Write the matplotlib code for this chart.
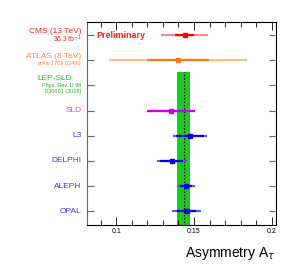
import matplotlib.pyplot as plt
import numpy as np
from matplotlib.ticker import MultipleLocator

plt.rcParams['font.family'] = ['Liberation Sans', 'DejaVu Sans']

# rows from bottom (OPAL) to top (CMS)
names = ['OPAL', 'ALEPH', 'DELPHI', 'L3', 'SLD', 'LEP-SLD', 'ATLAS (8 TeV)', 'CMS (13 TeV)']
ypos = [1, 2, 3, 4, 5, 6, 7, 8]
label_colors = ['#3333ff', '#3333ff', '#3333ff', '#3333ff', '#e040ff', '#22bb22', '#ff8833', '#ff2020']

# measurements (no point for the LEP-SLD row, it is the band)
meas_names = ['OPAL', 'ALEPH', 'DELPHI', 'L3', 'SLD', 'ATLAS (8 TeV)', 'CMS (13 TeV)']
meas_y = [1, 2, 3, 4, 5, 7, 8]
a_tau = [0.1452, 0.1448, 0.1356, 0.1474, 0.1354, 0.1397, 0.1439]
err_inner = [0.0060, 0.0040, 0.0075, 0.0090, 0.0155, 0.0200, 0.0060]
err_total = [0.0095, 0.0060, 0.0097, 0.0110, 0.0155, 0.0445, 0.0150]
dark = ['#0000ee', '#0000ee', '#0000ee', '#0000ee', '#cc00ee', '#ff7722', '#ff0000']
light = ['#5555ff', '#5555ff', '#5555ff', '#5555ff', '#cc00ee', '#ffbb88', '#ff8888']

# LEP-SLD average
avg = 0.1433
avg_err = 0.0040

fig = plt.figure(figsize=(2.91, 2.79), dpi=100)
ax = fig.add_axes([0.299, 0.1935, 0.649, 0.7275])

ax.fill_betweenx([0.0, 6.55], avg - avg_err, avg + avg_err, color='#1ccc1c', lw=0, zorder=1)
ax.plot([avg, avg], [0.0, 6.55], color='black', ls=(0, (1.5, 1.5)), lw=0.8, zorder=2)

for i in range(len(meas_y)):
    x, y = a_tau[i], meas_y[i]
    ax.plot([x - err_total[i], x + err_total[i]], [y, y], color=light[i], lw=1.5,
            solid_capstyle='butt', zorder=3)
    ax.plot([x - err_inner[i], x + err_inner[i]], [y, y], color=dark[i], lw=1.6,
            solid_capstyle='butt', zorder=4)
    ax.plot(x, y, 's', color=dark[i], ms=3.5, zorder=5)

ax.set_xlim(0.0812, 0.2026)
ax.set_ylim(0.45, 8.52)
ax.xaxis.set_major_locator(MultipleLocator(0.05))
ax.xaxis.set_minor_locator(MultipleLocator(0.01))
ax.set_xticks([0.1, 0.15, 0.2])
ax.set_xticklabels(['0.1', '0.15', '0.2'])
ax.tick_params(axis='x', which='both', direction='in', top=True, bottom=True,
               labelsize=5, pad=2)
ax.tick_params(axis='x', which='major', length=6, width=0.6)
ax.tick_params(axis='x', which='minor', length=3.5, width=0.6)
ax.set_yticks(ypos)
ax.set_yticklabels([])
ax.tick_params(axis='y', which='both', direction='in', left=True, right=True,
               length=5, width=0.8, color='#666666')
for s in ax.spines.values():
    s.set_linewidth(0.8)
ax.spines['left'].set_color('#666666')

ax.set_xlabel(r'Asymmetry A$_\tau$', fontsize=10, ha='right', x=1.0, labelpad=7)

# row labels on the left
trans = ax.get_yaxis_transform()
xl = -0.03
for i, (n, y) in enumerate(zip(names, ypos)):
    c = label_colors[i]
    if n == 'CMS (13 TeV)':
        ax.text(xl, y + 0.15, n, color=c, fontsize=6, ha='right', va='center', transform=trans)
        ax.text(xl, y - 0.17, '36.3 fb$^{-1}$', color='#dd2222', fontsize=4.8, ha='right',
                va='center', transform=trans)
    elif n == 'ATLAS (8 TeV)':
        ax.text(xl, y + 0.15, n, color=c, fontsize=6, ha='right', va='center', transform=trans)
        ax.text(xl, y - 0.13, 'arXiv:1709.03490', color='#ff7722', fontsize=4, ha='right',
                va='center', transform=trans)
    elif n == 'LEP-SLD':
        ax.text(xl - 0.05, y + 0.28, n, color=c, fontsize=6, ha='right', va='center',
                transform=trans)
        ax.text(xl, y - 0.02, 'Phys. Rev. D 98', color='#22aa22', fontsize=4, ha='right',
                va='center', transform=trans)
        ax.text(xl, y - 0.25, '030001 (2018)', color='#22aa22', fontsize=4, ha='right',
                va='center', transform=trans)
    else:
        ax.text(xl, y, n, color=c, fontsize=6, ha='right', va='center', transform=trans)

ax.text(0.0875, 8, 'Preliminary', color='#ff2020', fontsize=6.5, fontweight='bold',
        ha='left', va='center')

fig.savefig('out.png', dpi=100)
